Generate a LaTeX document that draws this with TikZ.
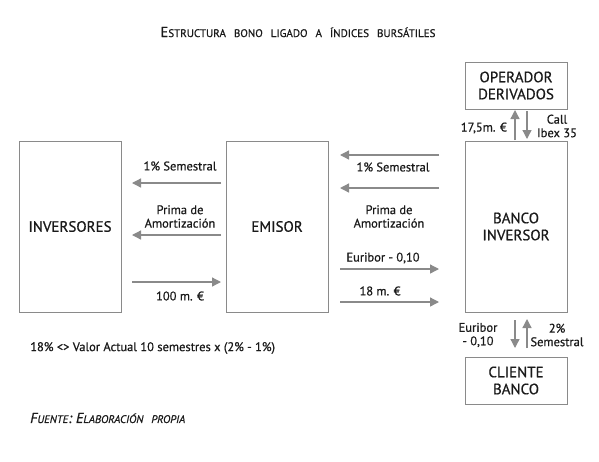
\documentclass[tikz,border=0pt]{standalone}
\usepackage{fontspec}
\setmainfont{PT Sans}[FakeBold=0.7]
\usetikzlibrary{arrows.meta,calc}
\definecolor{gline}{HTML}{8A8A8A}
\definecolor{gtext}{HTML}{1A1A1A}
\newcommand\scbig[1]{{\fontsize{14.5}{16}\selectfont #1}}
\newcommand\scsmall[1]{{\fontsize{11}{12}\selectfont #1}}
\newcommand\wsp{\hspace{8pt}}
\tikzset{
  box/.style={draw=gline, line width=0.9pt, minimum width=102pt, inner sep=0pt, align=center, font=\fontsize{15}{17}\selectfont, text=gtext},
  tallbox/.style={box, minimum height=171pt},
  smallbox/.style={box, minimum height=47pt},
  arr/.style={draw=gline, line width=1.3pt, -{Triangle[length=9pt,width=9pt]}},
  lbl/.style={font=\fontsize{12.5}{13.5}\selectfont, text=gtext, align=center, inner sep=0pt},
}
\begin{document}
\begin{tikzpicture}[x=1pt,y=-1pt]
\useasboundingbox (0,0) rectangle (599,461);
% title
\node[text=gtext, inner sep=0pt] (title) at (298,32) {\scbig{E}\scsmall{STRUCTURA\wsp BONO\wsp LIGADO\wsp A\wsp ÍNDICES\wsp BURSÁTILES}};
% boxes
\node[tallbox] (inv) at (70,226.5) {INVERSORES};
\node[tallbox] (emi) at (277,226.5) {EMISOR};
\node[tallbox] (ban) at (516,226.5) {BANCO\\INVERSOR};
\node[smallbox] (ope) at (516,85.5) {OPERADOR\\DERIVADOS};
\node[smallbox] (cli) at (516,380.5) {CLIENTE\\BANCO};
% connector endpoints
\coordinate (ie1a) at (221,183); \coordinate (ie1b) at (132,183);
\coordinate (ie2a) at (221,235); \coordinate (ie2b) at (132,235);
\coordinate (ie3a) at (132,282); \coordinate (ie3b) at (221,282);
\coordinate (eb1a) at (439,155); \coordinate (eb1b) at (340,155);
\coordinate (eb2a) at (439,188); \coordinate (eb2b) at (340,188);
\coordinate (eb3a) at (340,269); \coordinate (eb3b) at (439,269);
\coordinate (eb4a) at (340,302); \coordinate (eb4b) at (439,302);
\coordinate (bo1a) at (515,140); \coordinate (bo1b) at (515,110);
\coordinate (bo2a) at (527,111); \coordinate (bo2b) at (527,139);
\coordinate (bc1a) at (515,320); \coordinate (bc1b) at (515,348);
\coordinate (bc2a) at (527,348); \coordinate (bc2b) at (527,319);
% arrows inversores - emisor
\draw[arr] (ie1a) -- (ie1b);
\draw[arr] (ie2a) -- (ie2b);
\draw[arr] (ie3a) -- (ie3b);
% arrows emisor - banco
\draw[arr] (eb1a) -- (eb1b);
\draw[arr] (eb2a) -- (eb2b);
\draw[arr] (eb3a) -- (eb3b);
\draw[arr] (eb4a) -- (eb4b);
% vertical arrows
\draw[arr] (bo1a) -- (bo1b);
\draw[arr] (bo2a) -- (bo2b);
\draw[arr] (bc1a) -- (bc1b);
\draw[arr] (bc2a) -- (bc2b);
% labels
\node[lbl] (l1) at (180,166) {1\% Semestral};
\node[lbl] (l2) at (180,216.5) {Prima de\\Amortización};
\node[lbl] (l3) at (180,296) {100 m. €};
\node[lbl] (l4) at (393,167) {1\% Semestral};
\node[lbl] (l5) at (389,216.5) {Prima de\\Amortización};
\node[lbl] (l6) at (383,258) {Euribor - 0,10};
\node[lbl] (l7) at (380,291) {18 m. €};
\node[lbl, anchor=east] (l8) at (507,128) {17,5m. €};
\node[lbl] (l9) at (557,126) {Call\\Ibex 35};
\node[lbl] (l10) at (478,335) {Euribor\\- 0,10};
\node[lbl] (l11) at (557,335) {2\%\\Semestral};
\node[lbl, anchor=west] (form) at (30,348) {18\% <> Valor Actual 10 semestres x (2\% - 1\%)};
\node[text=gtext, inner sep=0pt, anchor=west, font=\itshape] (src) at (30,418) {\scbig{F}\scsmall{UENTE}\scbig{: E}\scsmall{LABORACIÓN\wsp PROPIA}};
\end{tikzpicture}
\end{document}
